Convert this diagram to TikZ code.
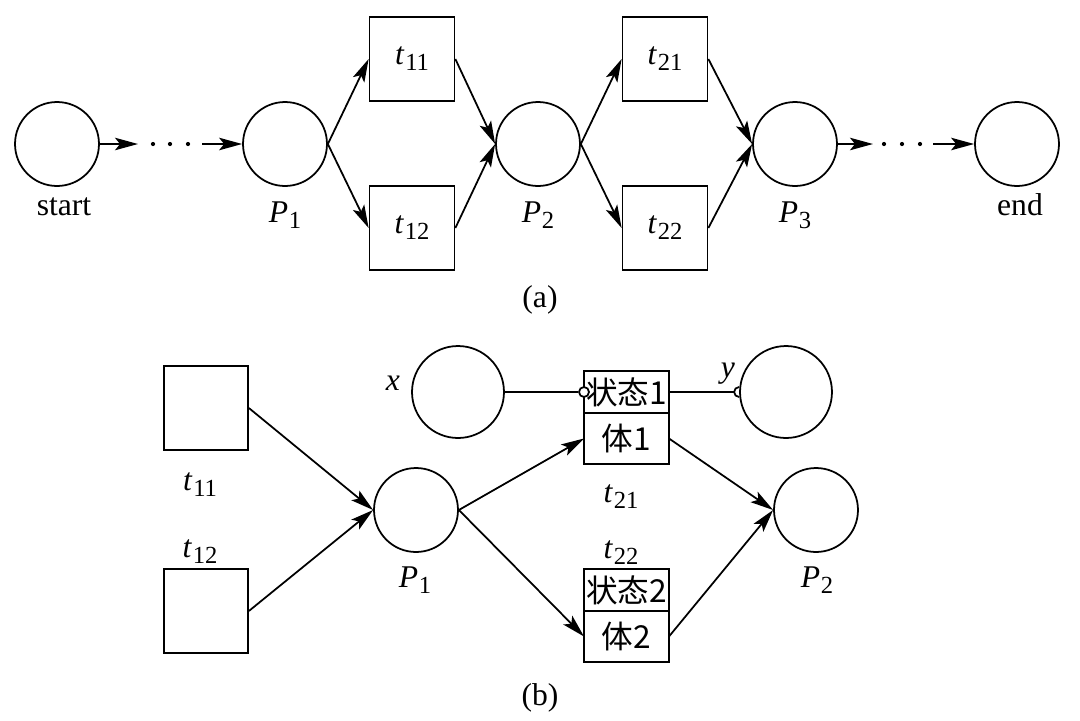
\documentclass[tikz,border=0pt]{standalone}
\usepackage{fontspec}
\setmainfont{Liberation Serif}
\newfontfamily\cjk{Noto Sans CJK SC}
\usepackage{tikz}
\usetikzlibrary{arrows.meta}
\newcommand{\sublab}[2]{\textit{#1}\kern0.5pt\raisebox{-3.5pt}{\fontsize{14}{14}\selectfont #2}}

\begin{document}
\begin{tikzpicture}[x=0.02cm,y=-0.02cm,
  every node/.style={font=\fontsize{18}{21}\selectfont},
  place/.style={draw,circle,line width=1pt,minimum size=1.68cm,inner sep=0pt},
  bigplace/.style={place,minimum size=1.84cm},
  trans/.style={draw,rectangle,line width=1pt,minimum width=1.7cm,minimum height=1.68cm,inner sep=0pt},
  upper/.style={draw,rectangle,line width=1pt,minimum width=1.7cm,minimum height=0.84cm,inner sep=0pt,outer sep=0pt},
  lower/.style={draw,rectangle,line width=1pt,minimum width=1.7cm,minimum height=1.02cm,inner sep=0pt,outer sep=0pt},
  arc/.style={-{Stealth[length=0.46cm,width=0.25cm,inset=0.1cm]},line width=1pt},
  link/.style={line width=1pt}]
\useasboundingbox (0,0) rectangle (1080,721);
\node[place] (start) at (57,144) {};
\node[anchor=base] (startl) at (64,215) {start};
\coordinate (da) at (138,144);
\coordinate (db) at (202,144);
\foreach \dx in {153,170,188} \fill (\dx,144) circle (1.2pt);
\node[place] (P1) at (285,144) {};
\node[anchor=base] (P1l) at (285,222) {\sublab{P}{1}};
\node[trans] (t11) at (412,59) {\sublab{t}{11}};
\node[trans] (t12) at (412,228) {\sublab{t}{12}};
\node[place] (P2) at (538,144) {};
\node[anchor=base] (P2l) at (538,222) {\sublab{P}{2}};
\node[trans] (t21) at (665,59) {\sublab{t}{21}};
\node[trans] (t22) at (665,228) {\sublab{t}{22}};
\node[place] (P3) at (795,144) {};
\node[anchor=base] (P3l) at (795,222) {\sublab{P}{3}};
\coordinate (dc) at (873,144);
\coordinate (dd) at (933,144);
\foreach \dx in {884,902,920} \fill (\dx,144) circle (1.2pt);
\node[place] (end) at (1017,144) {};
\node[anchor=base] (endl) at (1020,215) {end};
\node[anchor=base] (capa) at (540,307) {(a)};
\draw[arc] (start) -- (da);
\draw[arc] (db) -- (P1);
\draw[arc] (P1.east) -- (t11.west);
\draw[arc] (P1.east) -- (t12.west);
\draw[arc] (t11.east) -- (P2.west);
\draw[arc] (t12.east) -- (P2.west);
\draw[arc] (P2.east) -- (t21.west);
\draw[arc] (P2.east) -- (t22.west);
\draw[arc] (t21.east) -- (P3.west);
\draw[arc] (t22.east) -- (P3.west);
\draw[arc] (P3) -- (dc);
\draw[arc] (dd) -- (end);

\node[trans,minimum width=1.68cm] (bt11) at (206,408) {};
\node[anchor=base] (bt11l) at (200,490) {\sublab{t}{11}};
\node[trans,minimum width=1.68cm] (bt12) at (206,611) {};
\node[anchor=base] (bt12l) at (200,557) {\sublab{t}{12}};
\node[place] (bP1) at (416,510) {};
\node[anchor=base] (bP1l) at (415,587) {\sublab{P}{1}};
\node[bigplace] (x) at (458,392) {};
\node[anchor=base] (xl) at (393,390) {\textit{x}};
\node[upper] (s1) at (626.5,392) {\cjk{状态}1};
\node[lower,anchor=north] (b1) at (s1.south) {\cjk{体}1};
\node[bigplace] (y) at (786,392) {};
\node[anchor=base] (yl) at (728,377) {\textit{y}};
\node[anchor=base] (bt21l) at (621,502) {\sublab{t}{21}};
\node[anchor=base] (bt22l) at (621,558) {\sublab{t}{22}};
\node[upper] (s2) at (626.5,590) {\cjk{状态}2};
\node[lower,anchor=north] (b2) at (s2.south) {\cjk{体}2};
\node[place] (bP2) at (816,510) {};
\node[anchor=base] (bP2l) at (817,587) {\sublab{P}{2}};
\node[anchor=base] (capb) at (540,705) {(b)};
\node[circle,draw,line width=1pt,fill=white,inner sep=0pt,minimum size=0.2cm] (xin) at (s1.west) {};
\draw[link] (x) -- (xin);
\coordinate (yin) at ([xshift=-0.1cm]y.west);
\draw[link] ([yshift=0.1cm]y.west) arc[start angle=90,end angle=270,radius=0.1cm];
\draw[link] (s1.east) -- (yin);
\draw[arc] (bt11.east) -- (bP1.west);
\draw[arc] (bt12.east) -- (bP1.west);
\draw[arc] (bP1.east) -- (b1.west);
\draw[arc] (bP1.east) -- (b2.west);
\draw[arc] (b1.east) -- (bP2.west);
\draw[arc] (b2.east) -- (bP2.west);
\end{tikzpicture}
\end{document}
